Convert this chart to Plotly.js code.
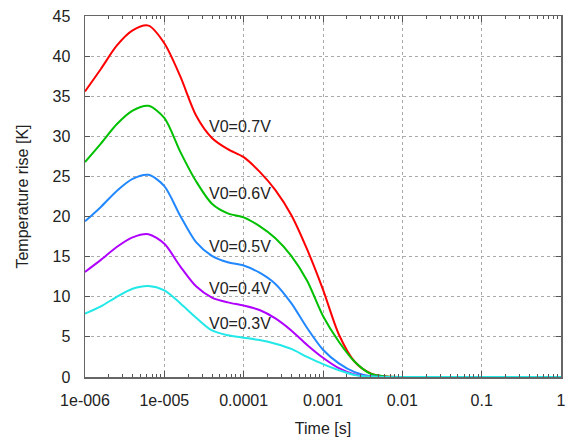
<!DOCTYPE html>
<html>
<head>
<meta charset="utf-8">
<script src="https://cdn.plot.ly/plotly-3.0.1.min.js"></script>
<style>html,body{margin:0;padding:0;background:#fff;}#chart{width:571px;height:441px;}</style>
</head>
<body>
<div id="chart"></div>
<script>
// Time [s]
var time = [1e-6, 1.585e-6, 2.512e-6, 3.981e-6, 6.310e-6, 1e-5, 1.585e-5, 2.512e-5, 3.981e-5, 6.310e-5,
            1e-4, 1.585e-4, 2.512e-4, 3.981e-4, 6.310e-4, 1e-3, 1.585e-3, 2.512e-3, 3.981e-3, 6.310e-3,
            1e-2, 1e-1, 1];
// Temperature rise [K]
var v07 = [35.6, 38.4, 41.3, 43.2, 43.8, 41.6, 37.5, 32.6, 29.8, 28.4, 27.4, 25.6, 23.3, 20.2, 15.9, 10.9, 5.3, 1.9, 0.45, 0.05, 0, 0, 0];
var v06 = [26.8, 29.1, 31.5, 33.2, 33.8, 32.3, 28.1, 24.4, 21.6, 20.4, 19.9, 18.8, 17.3, 15.1, 12.0, 7.6, 4.4, 1.9, 0.4, 0.05, 0, 0, 0];
var v05 = [19.4, 21.2, 23.2, 24.7, 25.2, 23.8, 20.1, 16.8, 15.1, 14.3, 13.9, 13.0, 11.6, 9.2, 6.1, 3.4, 1.7, 0.6, 0.1, 0, 0, 0, 0];
var v04 = [13.1, 14.6, 16.2, 17.4, 17.8, 16.6, 13.8, 11.3, 9.9, 9.3, 8.9, 8.35, 7.3, 5.8, 4.0, 2.4, 1.1, 0.3, 0.05, 0, 0, 0, 0];
var v03 = [7.9, 8.8, 10.0, 11.0, 11.35, 10.8, 9.2, 7.4, 5.8, 5.2, 4.9, 4.6, 4.15, 3.5, 2.5, 1.6, 0.85, 0.25, 0.05, 0, 0, 0, 0];

var seriesNames = ["V0=0.7V", "V0=0.6V", "V0=0.5V", "V0=0.4V", "V0=0.3V"];
var seriesColors = ["#ff0000", "#00c000", "#2288ff", "#b000ff", "#22e8e8"];
var labelTime = [3.47e-5, 3.47e-5, 3.47e-5, 3.47e-5, 3.47e-5];
var labelValue = [31.2, 22.9, 16.25, 11.06, 6.7];
var tickVals = [1e-6, 1e-5, 1e-4, 1e-3, 1e-2, 1e-1, 1];
var tickText = ["1e-006", "1e-005", "0.0001", "0.001", "0.01", "0.1", "1"];

var allY = [v07, v06, v05, v04, v03];
var traces = allY.map(function (y, i) {
  return {
    x: time, y: y, type: "scatter", mode: "lines", name: seriesNames[i],
    line: {color: seriesColors[i], width: 2, shape: "spline", smoothing: 0.8},
    hoverinfo: "skip"
  };
});

var annotations = seriesNames.map(function (n, i) {
  return {
    x: Math.log10(labelTime[i]), y: labelValue[i], xref: "x", yref: "y",
    text: n, showarrow: false, xanchor: "left", yanchor: "middle",
    font: {family: "Liberation Sans, Arial, sans-serif", size: 16, color: "#222"}
  };
});

var axisFont = {family: "Liberation Sans, Arial, sans-serif", size: 16, color: "#222"};

var layout = {
  width: 571, height: 441,
  margin: {l: 85, r: 10, t: 16, b: 64},
  paper_bgcolor: "#ffffff", plot_bgcolor: "#ffffff",
  showlegend: false,
  font: axisFont,
  xaxis: {
    type: "log", range: [-6, 0],
    tickvals: tickVals, ticktext: tickText,
    ticks: "inside", ticklen: 6, tickwidth: 1, tickcolor: "#555",
    showline: true, linecolor: "#666", linewidth: 1.5, mirror: "ticks",
    showgrid: true, gridcolor: "#aaa", griddash: "dot", gridwidth: 1,
    zeroline: false,
    ticklabelstandoff: 8,
    minor: {ticks: "inside", ticklen: 3, tickcolor: "#555", showgrid: false, dtick: "D1"},
    tickfont: axisFont,
    title: {text: "Time [s]", font: axisFont, standoff: 15}
  },
  yaxis: {
    range: [0, 45], dtick: 5, tick0: 0,
    ticks: "inside", ticklen: 5, tickwidth: 1, tickcolor: "#555",
    showline: true, linecolor: "#666", linewidth: 1.5, mirror: "ticks",
    showgrid: true, gridcolor: "#aaa", griddash: "dot", gridwidth: 1,
    zeroline: false,
    ticklabelstandoff: 10,
    tickfont: axisFont,
    title: {text: "Temperature rise [K]", font: axisFont, standoff: 20}
  },
  annotations: annotations
};

Plotly.newPlot("chart", traces, layout, {staticPlot: true, displayModeBar: false});
</script>
</body>
</html>
